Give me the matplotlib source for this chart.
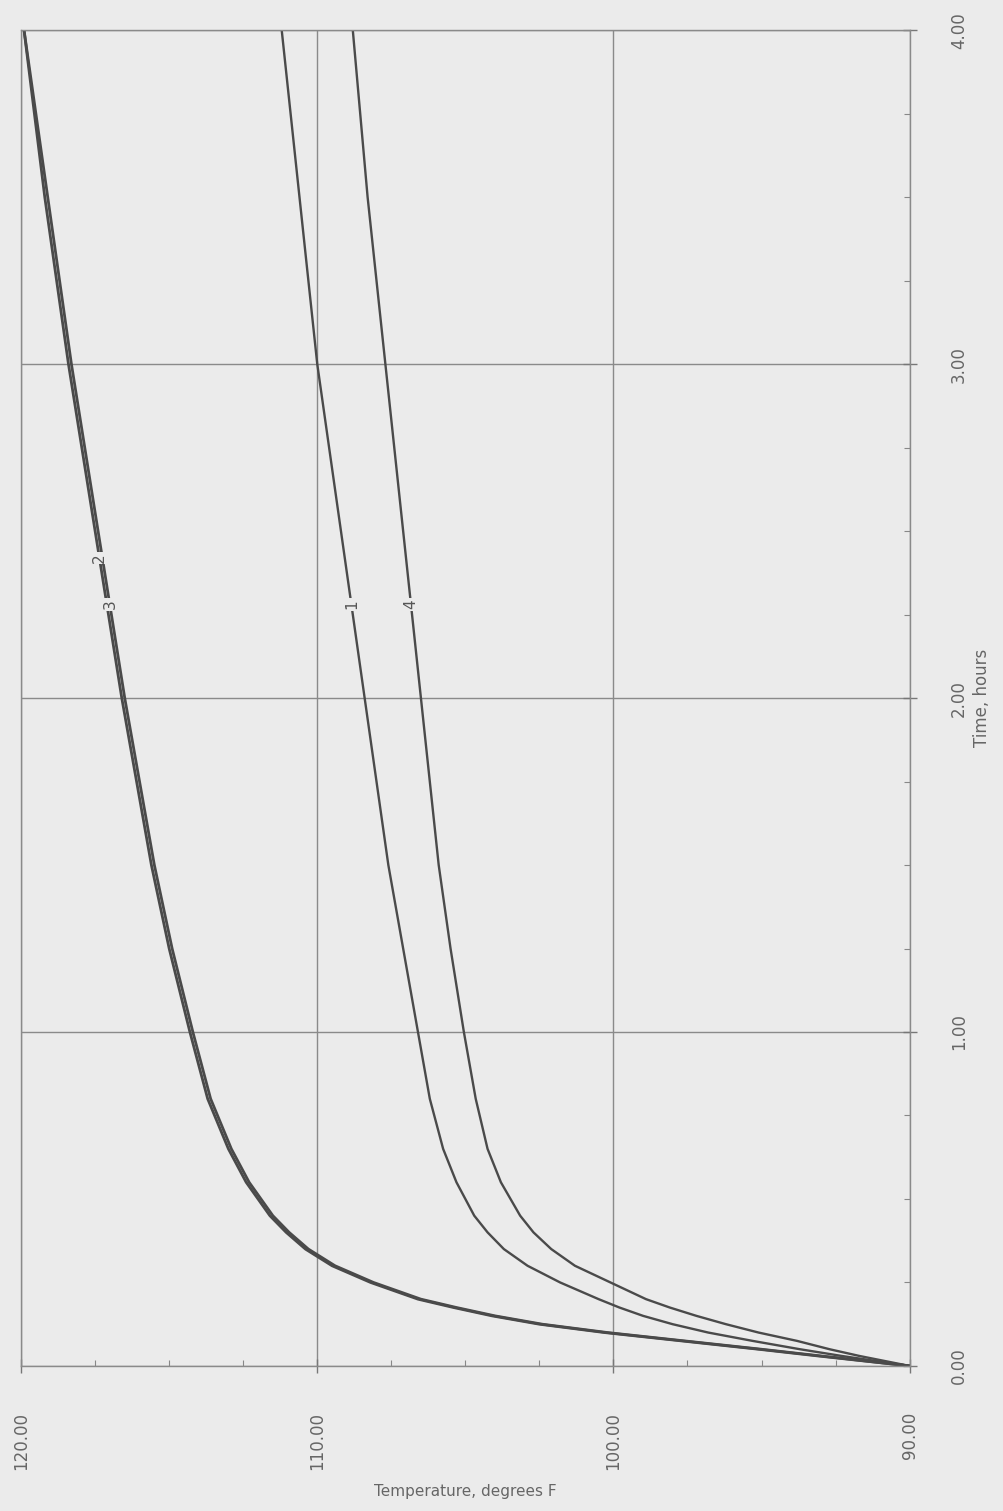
import numpy as np
import matplotlib
matplotlib.use("Agg")
import matplotlib.pyplot as plt
from matplotlib.ticker import MultipleLocator

# time in hours and temperature (degrees F)
time_h = [0.0, 0.03, 0.05, 0.075, 0.1, 0.125, 0.15, 0.175, 0.2, 0.25, 0.3, 0.35, 0.4, 0.45,
          0.55, 0.65, 0.8, 0.9, 1.0, 1.25, 1.5, 1.75, 2.0, 2.5, 3.0, 3.5, 4.0]
temp_1 = [90.0, 92.3, 93.7, 95.3, 96.8, 98.0, 99.0, 99.8, 100.5, 101.8, 102.9, 103.7, 104.25, 104.7,
          105.3, 105.75, 106.2, 106.4, 106.6, 107.1, 107.6, 108.0, 108.4, 109.2, 110.0, 110.6, 111.2]
temp_2 = [90.0, 93.1, 95.1, 97.7, 100.3, 102.5, 104.1, 105.4, 106.6, 108.2, 109.5, 110.4, 111.05, 111.6,
          112.4, 113.0, 113.7, 114.0, 114.3, 115.0, 115.6, 116.1, 116.6, 117.5, 118.4, 119.2, 119.9]
temp_3 = [90.0, 93.0, 95.0, 97.6, 100.2, 102.4, 104.0, 105.3, 106.5, 108.1, 109.4, 110.3, 110.95, 111.5,
          112.3, 112.9, 113.6, 113.9, 114.2, 114.9, 115.5, 116.0, 116.5, 117.4, 118.3, 119.1, 119.9]
temp_4 = [90.0, 91.7, 92.7, 93.8, 95.1, 96.2, 97.2, 98.1, 98.9, 100.1, 101.3, 102.1, 102.7, 103.15,
          103.8, 104.25, 104.65, 104.85, 105.05, 105.5, 105.9, 106.2, 106.5, 107.1, 107.7, 108.3, 108.8]

curve_names = ["1", "2", "3", "4"]
label_time = [2.28, 2.42, 2.28, 2.28]

time_ticks = [0, 1, 2, 3, 4]
temp_ticks = [90, 100, 110, 120]

bg = "#ebebeb"
ink = "#4a4a4a"

fig = plt.figure(figsize=(10.04, 15.11), dpi=100, facecolor=bg)
ax = fig.add_axes([0.021, 0.096, 0.885, 0.884], facecolor=bg)

series = [temp_1, temp_2, temp_3, temp_4]
widths = [1.7, 2.0, 2.0, 1.7]
for temps, lw in zip(series, widths):
    ax.plot(temps, time_h, color=ink, lw=lw, solid_capstyle="round", solid_joinstyle="round")

# curve numbers sit on the lines, like in the original
for name, temps, tl in zip(curve_names, series, label_time):
    tx = np.interp(tl, time_h, temps)
    ax.text(tx, tl, name, rotation=90, ha="center", va="center", fontsize=11,
            color="#555555", bbox=dict(facecolor=bg, edgecolor="none", pad=1))

ax.set_xlim(120, 90)
ax.set_ylim(0, 4)
ax.set_xticks(temp_ticks)
ax.set_yticks(time_ticks)
ax.xaxis.set_minor_locator(MultipleLocator(2.5))
ax.yaxis.set_minor_locator(MultipleLocator(0.25))
ax.yaxis.tick_right()
ax.yaxis.set_label_position("right")

ax.set_xticklabels(["%.2f" % v for v in temp_ticks], rotation=90, fontsize=12, color="#666666")
ax.set_yticklabels(["%.2f" % v for v in time_ticks], rotation=90, va="center", fontsize=12, color="#666666")
ax.tick_params(axis="both", which="major", length=10, width=1, color="#777777", direction="inout")
ax.tick_params(axis="both", which="minor", length=4, width=0.8, color="#888888", direction="in")
ax.tick_params(axis="x", which="major", pad=28)
ax.tick_params(axis="y", which="major", pad=24)

ax.grid(True, which="major", color="#8a8a8a", lw=1)
for s in ax.spines.values():
    s.set_color("#8a8a8a")
    s.set_linewidth(1)

ax.set_ylabel("Time, hours", rotation=90, fontsize=12, color="#666666", labelpad=4)
ax.set_xlabel("Temperature, degrees F", fontsize=11, color="#666666", labelpad=10)

fig.savefig("out.png", dpi=100, facecolor=bg)
